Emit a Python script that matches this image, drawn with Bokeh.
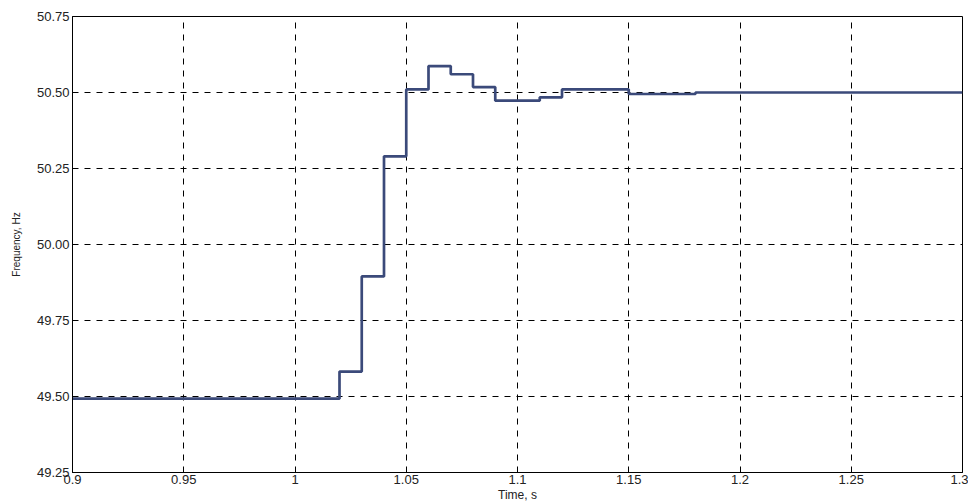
from bokeh.plotting import figure
from bokeh.models import Range1d, FixedTicker, ColumnDataSource
from bokeh.embed import file_html
from bokeh.resources import INLINE

# Data (step start times and frequency levels)
time_s = [0.9, 1.02, 1.03, 1.04, 1.05, 1.06, 1.07, 1.08, 1.09, 1.11, 1.12, 1.15, 1.18, 1.3]
freq_hz = [49.493, 49.582, 49.895, 50.29, 50.51, 50.587, 50.56, 50.518, 50.473, 50.484, 50.51, 50.495, 50.50, 50.50]

x_ticks = [0.9, 0.95, 1.0, 1.05, 1.1, 1.15, 1.2, 1.25, 1.3]
x_tick_labels = ["0.9", "0.95", "1", "1.05", "1.1", "1.15", "1.2", "1.25", "1.3"]
y_ticks = [49.25, 49.5, 49.75, 50.0, 50.25, 50.5, 50.75]
y_tick_labels = ["49.25", "49.50", "49.75", "50.00", "50.25", "50.50", "50.75"]

p = figure(width=968, height=504, output_backend="svg", toolbar_location=None,
           x_range=Range1d(0.9, 1.3), y_range=Range1d(49.25, 50.75),
           min_border_left=72, min_border_right=6, min_border_top=16, min_border_bottom=32)

src = ColumnDataSource(dict(t=time_s, f=freq_hz))
p.step("t", "f", source=src, mode="after", line_color="#3b4a7a", line_width=2.7)

p.xaxis.ticker = FixedTicker(ticks=x_ticks)
p.yaxis.ticker = FixedTicker(ticks=y_ticks)
p.xaxis.major_label_overrides = {t: l for t, l in zip(x_ticks, x_tick_labels)}
p.yaxis.major_label_overrides = {t: l for t, l in zip(y_ticks, y_tick_labels)}

for ax in (p.xaxis, p.yaxis):
    ax.major_tick_in = 5
    ax.major_tick_out = 0
    ax.minor_tick_line_color = None
    ax.axis_line_color = "black"
    ax.major_tick_line_color = "black"
    ax.major_label_text_font = "Liberation Sans"
    ax.major_label_text_font_size = "13px"
    ax.major_label_text_color = "#222222"
    ax.axis_label_text_font = "Liberation Sans"
    ax.axis_label_text_font_style = "normal"
    ax.axis_label_text_color = "#222222"

p.xaxis.axis_label = "Time, s"
p.xaxis.axis_label_text_font_size = "12px"
p.xaxis.axis_label_standoff = 1
p.xaxis.major_label_standoff = 2
p.yaxis.axis_label = "Frequency, Hz"
p.yaxis.axis_label_text_font_size = "10px"
p.yaxis.axis_label_standoff = 12
p.yaxis.major_label_standoff = 3

p.xgrid.grid_line_color = "black"
p.ygrid.grid_line_color = "black"
p.xgrid.grid_line_dash = "6 6"
p.ygrid.grid_line_dash = "6 6"
p.xgrid.grid_line_width = 1
p.ygrid.grid_line_width = 1

p.outline_line_color = "black"
p.outline_line_width = 1
p.background_fill_color = "white"
p.border_fill_color = "white"

open("out.html", "w").write(file_html(p, INLINE))
